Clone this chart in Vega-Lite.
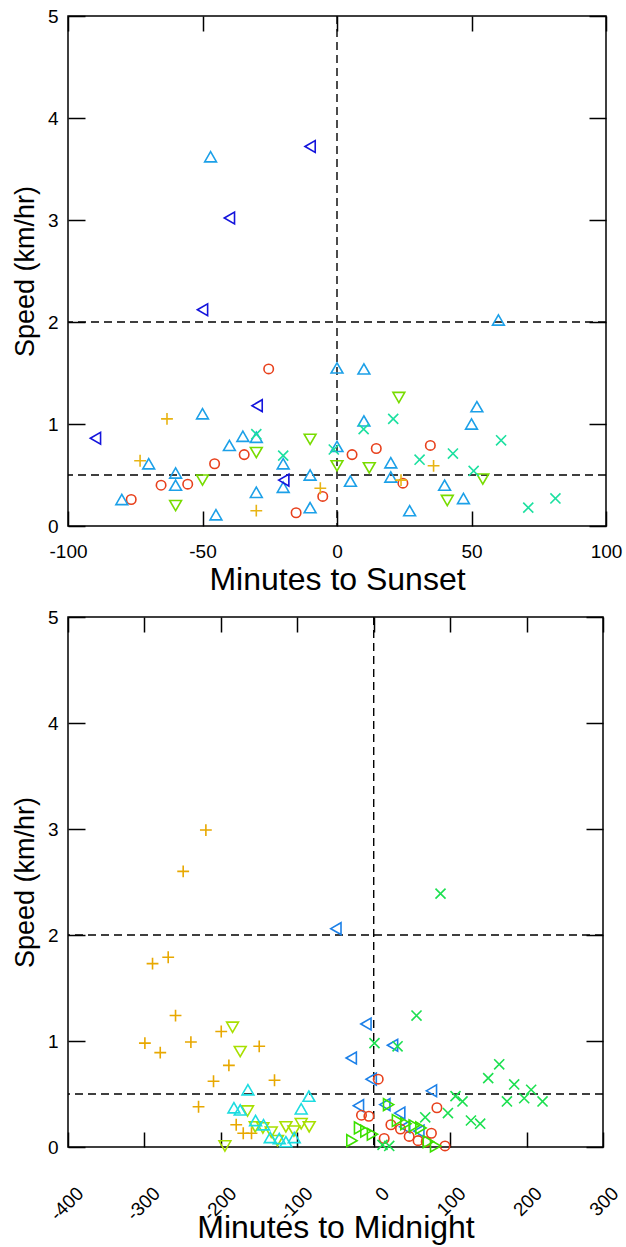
{
  "$schema": "https://vega.github.io/schema/vega-lite/v6.json",
  "background": "white",
  "padding": {"left": 10, "top": 6, "right": 5, "bottom": 3},
  "autosize": {"type": "pad"},
  "spacing": 91,
  "bounds": "flush",
  "config": {
    "font": "Liberation Sans",
    "view": {"stroke": "black", "strokeWidth": 1.5},
    "axis": {"domain": false, "grid": false, "tickColor": "black", "tickWidth": 1.5, "labelColor": "black", "titleColor": "black", "labelFontSize": 19, "labelFont": "Liberation Sans", "titleFont": "Liberation Sans", "titleFontWeight": "normal", "labelOverlap": false, "labelFlush": false}
  },
  "datasets": {
    "hlines": [{"v": 0.5}, {"v": 2}],
    "vline": [{"v": 0}],
    "sunset": [
      {"g": "t_circle", "x": -25.4, "y": 1.54}, {"g": "t_circle", "x": -34.5, "y": 0.70}, {"g": "t_circle", "x": -45.5, "y": 0.61}, {"g": "t_circle", "x": -65.4, "y": 0.40}, {"g": "t_circle", "x": -55.5, "y": 0.41}, {"g": "t_circle", "x": -5.3, "y": 0.29}, {"g": "t_circle", "x": -76.5, "y": 0.26}, {"g": "t_circle", "x": -15.2, "y": 0.13}, {"g": "t_circle", "x": 34.7, "y": 0.79}, {"g": "t_circle", "x": 14.6, "y": 0.76}, {"g": "t_circle", "x": 5.6, "y": 0.70}, {"g": "t_circle", "x": 24.5, "y": 0.42},
      {"g": "t_up", "x": -47, "y": 3.62}, {"g": "t_up", "x": 0, "y": 1.55}, {"g": "t_up", "x": -50, "y": 1.10}, {"g": "t_up", "x": -35, "y": 0.88}, {"g": "t_up", "x": -30, "y": 0.87}, {"g": "t_up", "x": -40, "y": 0.79}, {"g": "t_up", "x": 0, "y": 0.78}, {"g": "t_up", "x": -20, "y": 0.61}, {"g": "t_up", "x": -70, "y": 0.61}, {"g": "t_up", "x": -60, "y": 0.52}, {"g": "t_up", "x": -60, "y": 0.40}, {"g": "t_up", "x": -10, "y": 0.50}, {"g": "t_up", "x": -20, "y": 0.38}, {"g": "t_up", "x": -30, "y": 0.33}, {"g": "t_up", "x": -80, "y": 0.26}, {"g": "t_up", "x": -10, "y": 0.18}, {"g": "t_up", "x": -45, "y": 0.11}, {"g": "t_up", "x": 60, "y": 2.02}, {"g": "t_up", "x": 10, "y": 1.54}, {"g": "t_up", "x": 52, "y": 1.17}, {"g": "t_up", "x": 10, "y": 1.03}, {"g": "t_up", "x": 50, "y": 1.00}, {"g": "t_up", "x": 20, "y": 0.62}, {"g": "t_up", "x": 20, "y": 0.48}, {"g": "t_up", "x": 5, "y": 0.44}, {"g": "t_up", "x": 40, "y": 0.40}, {"g": "t_up", "x": 47, "y": 0.27}, {"g": "t_up", "x": 27, "y": 0.15},
      {"g": "t_left", "x": -10, "y": 3.72}, {"g": "t_left", "x": -40, "y": 3.02}, {"g": "t_left", "x": -50, "y": 2.12}, {"g": "t_left", "x": -29.7, "y": 1.18}, {"g": "t_left", "x": -89.8, "y": 0.86}, {"g": "t_left", "x": -19.8, "y": 0.45},
      {"g": "t_plus", "x": -63.2, "y": 1.05}, {"g": "t_plus", "x": -73.2, "y": 0.64}, {"g": "t_plus", "x": -6.2, "y": 0.37}, {"g": "t_plus", "x": -30, "y": 0.15}, {"g": "t_plus", "x": 35.9, "y": 0.59}, {"g": "t_plus", "x": 23.8, "y": 0.45},
      {"g": "t_down", "x": -10, "y": 0.85}, {"g": "t_down", "x": -30, "y": 0.72}, {"g": "t_down", "x": 0, "y": 0.59}, {"g": "t_down", "x": -50, "y": 0.45}, {"g": "t_down", "x": -60, "y": 0.20}, {"g": "t_down", "x": 23, "y": 1.26}, {"g": "t_down", "x": 12, "y": 0.57}, {"g": "t_down", "x": 54.2, "y": 0.46}, {"g": "t_down", "x": 41, "y": 0.25},
      {"g": "t_x", "x": -30, "y": 0.90}, {"g": "t_x", "x": -20, "y": 0.69}, {"g": "t_x", "x": -1.2, "y": 0.75}, {"g": "t_x", "x": 20.9, "y": 1.05}, {"g": "t_x", "x": 9.9, "y": 0.95}, {"g": "t_x", "x": 61, "y": 0.84}, {"g": "t_x", "x": 43.1, "y": 0.71}, {"g": "t_x", "x": 30.7, "y": 0.65}, {"g": "t_x", "x": 50.8, "y": 0.54}, {"g": "t_x", "x": 81.2, "y": 0.27}, {"g": "t_x", "x": 71.1, "y": 0.18}
    ],
    "midnight": [
      {"g": "b_plus", "x": -219.6, "y": 2.99}, {"g": "b_plus", "x": -249.3, "y": 2.60}, {"g": "b_plus", "x": -289.4, "y": 1.73}, {"g": "b_plus", "x": -268.9, "y": 1.79}, {"g": "b_plus", "x": -259.3, "y": 1.24}, {"g": "b_plus", "x": -199.5, "y": 1.09}, {"g": "b_plus", "x": -299.4, "y": 0.98}, {"g": "b_plus", "x": -239.2, "y": 0.99}, {"g": "b_plus", "x": -149.8, "y": 0.95}, {"g": "b_plus", "x": -279.3, "y": 0.89}, {"g": "b_plus", "x": -189.5, "y": 0.77}, {"g": "b_plus", "x": -209.6, "y": 0.62}, {"g": "b_plus", "x": -129.8, "y": 0.63}, {"g": "b_plus", "x": -229.2, "y": 0.38}, {"g": "b_plus", "x": -179.9, "y": 0.21}, {"g": "b_plus", "x": -170.7, "y": 0.13}, {"g": "b_plus", "x": -159.9, "y": 0.13},
      {"g": "b_down", "x": -184.7, "y": 1.13}, {"g": "b_down", "x": -174.7, "y": 0.90}, {"g": "b_down", "x": -165.1, "y": 0.34}, {"g": "b_down", "x": -155, "y": 0.19}, {"g": "b_down", "x": -145, "y": 0.18}, {"g": "b_down", "x": -94.9, "y": 0.22}, {"g": "b_down", "x": -84.4, "y": 0.19}, {"g": "b_down", "x": -114.9, "y": 0.19}, {"g": "b_down", "x": -104.4, "y": 0.15}, {"g": "b_down", "x": -134.1, "y": 0.14}, {"g": "b_down", "x": -125.9, "y": 0.06}, {"g": "b_down", "x": -194.7, "y": 0.01},
      {"g": "b_up", "x": -164.6, "y": 0.54}, {"g": "b_up", "x": -84.8, "y": 0.48}, {"g": "b_up", "x": -182.9, "y": 0.37}, {"g": "b_up", "x": -174.7, "y": 0.35}, {"g": "b_up", "x": -94.9, "y": 0.36}, {"g": "b_up", "x": -154.6, "y": 0.25}, {"g": "b_up", "x": -144.2, "y": 0.21}, {"g": "b_up", "x": -135.4, "y": 0.09}, {"g": "b_up", "x": -123.6, "y": 0.08}, {"g": "b_up", "x": -114.9, "y": 0.05}, {"g": "b_up", "x": -104, "y": 0.09},
      {"g": "b_left", "x": -49.5, "y": 2.06}, {"g": "b_left", "x": -10.2, "y": 1.16}, {"g": "b_left", "x": 24.6, "y": 0.96}, {"g": "b_left", "x": -29.4, "y": 0.84}, {"g": "b_left", "x": -3.3, "y": 0.64}, {"g": "b_left", "x": 75.5, "y": 0.53}, {"g": "b_left", "x": -20, "y": 0.39}, {"g": "b_left", "x": 14.5, "y": 0.40}, {"g": "b_left", "x": 34, "y": 0.32}, {"g": "b_left", "x": 40.5, "y": 0.19}, {"g": "b_left", "x": 59, "y": 0.15},
      {"g": "b_circle", "x": 5.9, "y": 0.64}, {"g": "b_circle", "x": 82.7, "y": 0.37}, {"g": "b_circle", "x": -16, "y": 0.30}, {"g": "b_circle", "x": -6.3, "y": 0.29}, {"g": "b_circle", "x": 22.5, "y": 0.21}, {"g": "b_circle", "x": 35, "y": 0.17}, {"g": "b_circle", "x": 46.4, "y": 0.10}, {"g": "b_circle", "x": 58, "y": 0.06}, {"g": "b_circle", "x": 68.7, "y": 0.05}, {"g": "b_circle", "x": 75.5, "y": 0.13}, {"g": "b_circle", "x": 13.7, "y": 0.08}, {"g": "b_circle", "x": 93.3, "y": 0.01},
      {"g": "b_right", "x": 19.5, "y": 0.40}, {"g": "b_right", "x": 31.1, "y": 0.25}, {"g": "b_right", "x": 42.1, "y": 0.22}, {"g": "b_right", "x": 53, "y": 0.20}, {"g": "b_right", "x": 61.8, "y": 0.18}, {"g": "b_right", "x": -18.5, "y": 0.18}, {"g": "b_right", "x": -10.2, "y": 0.15}, {"g": "b_right", "x": -1.6, "y": 0.12}, {"g": "b_right", "x": -28.5, "y": 0.06}, {"g": "b_right", "x": 71.5, "y": 0.05}, {"g": "b_right", "x": 81, "y": 0.01},
      {"g": "b_x", "x": 87.4, "y": 2.39}, {"g": "b_x", "x": 56, "y": 1.24}, {"g": "b_x", "x": 1, "y": 0.98}, {"g": "b_x", "x": 31.2, "y": 0.95}, {"g": "b_x", "x": 164.2, "y": 0.78}, {"g": "b_x", "x": 149.8, "y": 0.65}, {"g": "b_x", "x": 183.8, "y": 0.59}, {"g": "b_x", "x": 206, "y": 0.54}, {"g": "b_x", "x": 107, "y": 0.48}, {"g": "b_x", "x": 116.2, "y": 0.43}, {"g": "b_x", "x": 174.3, "y": 0.43}, {"g": "b_x", "x": 196.9, "y": 0.46}, {"g": "b_x", "x": 220.9, "y": 0.43}, {"g": "b_x", "x": 97.1, "y": 0.32}, {"g": "b_x", "x": 67.4, "y": 0.28}, {"g": "b_x", "x": 127.2, "y": 0.25}, {"g": "b_x", "x": 139.3, "y": 0.22}, {"g": "b_x", "x": 11.5, "y": 0.02}, {"g": "b_x", "x": 20.3, "y": 0.01}
    ]
  },
  "vconcat": [
    {
      "width": 538,
      "height": 510,
      "layer": [
        {
          "data": {"name": "hlines"},
          "mark": {"type": "rule", "color": "black", "strokeWidth": 1.4, "strokeDash": [8, 5]},
          "encoding": {
            "y": {"field": "v", "type": "quantitative", "scale": {"domain": [0, 5]},
              "axis": {"orient": "left", "values": [0, 1, 2, 3, 4, 5], "tickSize": -17, "labelPadding": 27, "title": "Speed (km/hr)", "titleFontSize": 27, "titlePadding": 8}}
          }
        },
        {
          "data": {"name": "vline"},
          "mark": {"type": "rule", "color": "black", "strokeWidth": 1.4, "strokeDash": [8, 5]},
          "encoding": {
            "x": {"field": "v", "type": "quantitative", "scale": {"domain": [-100, 100]},
              "axis": {"orient": "bottom", "values": [-100, -50, 0, 50, 100], "labelExpr": "datum.value < 0 ? '-' + abs(datum.value) : '' + datum.value", "tickSize": -15, "labelPadding": 31, "title": "Minutes to Sunset", "titleFontSize": 32, "titleBaseline": "alphabetic", "titleY": 63}}
          }
        },
        {
          "data": {"name": "sunset"},
          "mark": {"type": "point", "filled": false, "strokeWidth": 1.6, "size": 140, "opacity": 1},
          "encoding": {
            "x": {"field": "x", "type": "quantitative", "scale": {"domain": [-100, 100]},
              "axis": {"orient": "top", "values": [-100, -50, 0, 50, 100], "tickSize": -15, "labels": false, "title": null}},
            "y": {"field": "y", "type": "quantitative", "scale": {"domain": [0, 5]},
              "axis": {"orient": "right", "values": [0, 1, 2, 3, 4, 5], "tickSize": -17, "labels": false, "title": null}},
            "color": {"field": "g", "type": "nominal", "legend": null,
              "scale": {"domain": ["t_circle", "t_up", "t_left", "t_plus", "t_down", "t_x"], "range": ["#e8401c", "#1ca0e8", "#1414dc", "#e8b414", "#78dc00", "#1ce0a0"]}},
            "shape": {"field": "g", "type": "nominal", "legend": null,
              "scale": {"domain": ["t_circle", "t_up", "t_left", "t_plus", "t_down", "t_x"], "range": ["M0.8,0A0.8,0.8,0,1,1,-0.8,0A0.8,0.8,0,1,1,0.8,0Z", "triangle-up", "triangle-left", "M-1,0L1,0M0,-1L0,1", "triangle-down", "M-0.85,-0.85L0.85,0.85M-0.85,0.85L0.85,-0.85"]}}
          }
        }
      ],
      "resolve": {"axis": {"x": "independent", "y": "independent"}}
    },
    {
      "width": 535,
      "height": 530,
      "layer": [
        {
          "data": {"name": "hlines"},
          "mark": {"type": "rule", "color": "black", "strokeWidth": 1.4, "strokeDash": [8, 5]},
          "encoding": {
            "y": {"field": "v", "type": "quantitative", "scale": {"domain": [0, 5]},
              "axis": {"orient": "left", "values": [0, 1, 2, 3, 4, 5], "tickSize": -17, "labelPadding": 27, "title": "Speed (km/hr)", "titleFontSize": 27, "titlePadding": 8}}
          }
        },
        {
          "data": {"name": "vline"},
          "mark": {"type": "rule", "color": "black", "strokeWidth": 1.4, "strokeDash": [8, 5]},
          "encoding": {
            "x": {"field": "v", "type": "quantitative", "scale": {"domain": [-400, 300]},
              "axis": {"orient": "bottom", "values": [-400, -300, -200, -100, 0, 100, 200, 300], "labelExpr": "datum.value < 0 ? '-' + abs(datum.value) : '' + datum.value", "tickSize": -15, "labelAngle": -45, "labelAlign": "right", "labelBaseline": "middle", "labelOffset": 12, "labelPadding": 58, "title": "Minutes to Midnight", "titleFontSize": 32, "titleBaseline": "alphabetic", "titleY": 90}}
          }
        },
        {
          "data": {"name": "midnight"},
          "mark": {"type": "point", "filled": false, "strokeWidth": 1.6, "size": 140, "opacity": 1},
          "encoding": {
            "x": {"field": "x", "type": "quantitative", "scale": {"domain": [-400, 300]},
              "axis": {"orient": "top", "values": [-400, -300, -200, -100, 0, 100, 200, 300], "tickSize": -15, "labels": false, "title": null}},
            "y": {"field": "y", "type": "quantitative", "scale": {"domain": [0, 5]},
              "axis": {"orient": "right", "values": [0, 1, 2, 3, 4, 5], "tickSize": -17, "labels": false, "title": null}},
            "color": {"field": "g", "type": "nominal", "legend": null,
              "scale": {"domain": ["b_plus", "b_down", "b_up", "b_left", "b_circle", "b_right", "b_x"], "range": ["#e8a800", "#a8e000", "#1cdce0", "#1c80e8", "#e8401c", "#3ce000", "#1ce050"]}},
            "shape": {"field": "g", "type": "nominal", "legend": null,
              "scale": {"domain": ["b_plus", "b_down", "b_up", "b_left", "b_circle", "b_right", "b_x"], "range": ["M-1,0L1,0M0,-1L0,1", "triangle-down", "triangle-up", "triangle-left", "M0.8,0A0.8,0.8,0,1,1,-0.8,0A0.8,0.8,0,1,1,0.8,0Z", "triangle-right", "M-0.85,-0.85L0.85,0.85M-0.85,0.85L0.85,-0.85"]}}
          }
        }
      ],
      "resolve": {"axis": {"x": "independent", "y": "independent"}}
    }
  ],
  "resolve": {"scale": {"color": "independent", "shape": "independent"}}
}
